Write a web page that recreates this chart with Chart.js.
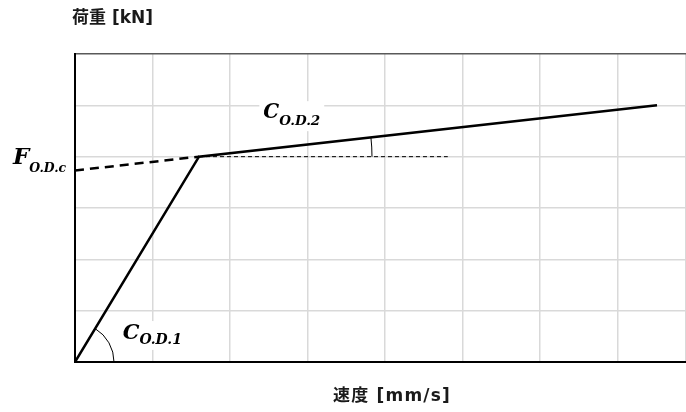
<!DOCTYPE html>
<html>
<head>
<meta charset="utf-8">
<script src="https://cdn.jsdelivr.net/npm/chart.js@4/dist/chart.umd.min.js"></script>
<style>
  html, body { margin: 0; padding: 0; background: #fff; }
  #wrap { width: 686px; height: 412px; }
</style>
</head>
<body>
<div id="wrap"><canvas id="c" width="686" height="412"></canvas></div>
<script>
// Bilinear load–speed curve: origin → knee → end
const speeds = [0, 1.60, 7.51];
const loads = [0, 4.0, 5.0];
// Extrapolation of the second branch back to zero speed
const extSpeeds = [0, 1.60];
const extLoads = [3.73, 4.0];
// Horizontal reference at the knee load
const refSpeeds = [1.60, 4.81];
const refLoads = [4.0, 4.0];

const xTitle = '速度 [mm/s]';
const yTitle = '荷重 [kN]';

const toPts = (xs, ys) => xs.map((v, i) => ({ x: v, y: ys[i] }));

const mathFont = '"DejaVu Serif", "Liberation Serif", serif';

// Draws "Main" + subscript, with a white backing so grid lines stop at the symbol
function drawSymbol(ctx, main, sub, px, py, mainSize, subSize, subDrop) {
  ctx.save();
  ctx.textBaseline = 'alphabetic';
  ctx.textAlign = 'left';
  ctx.font = `italic bold ${mainSize}px ${mathFont}`;
  const wMain = ctx.measureText(main).width;
  ctx.font = `italic bold ${subSize}px ${mathFont}`;
  const wSub = ctx.measureText(sub).width;
  ctx.fillStyle = '#fff';
  ctx.fillRect(px - 4, py - mainSize * 0.85, wMain + wSub + 8, mainSize * 0.85 + subDrop + 6);
  ctx.fillStyle = '#000';
  ctx.font = `italic bold ${mainSize}px ${mathFont}`;
  ctx.fillText(main, px, py);
  ctx.font = `italic bold ${subSize}px ${mathFont}`;
  ctx.fillText(sub, px + wMain, py + subDrop);
  ctx.restore();
}

const annotations = {
  id: 'annotations',
  afterDatasetsDraw(chart) {
    const { ctx, scales: { x, y } } = chart;
    const ox = x.getPixelForValue(speeds[0]), oy = y.getPixelForValue(loads[0]);
    const kx = x.getPixelForValue(speeds[1]), ky = y.getPixelForValue(loads[1]);
    const ex = x.getPixelForValue(speeds[2]), ey = y.getPixelForValue(loads[2]);

    ctx.save();
    ctx.strokeStyle = '#000';
    ctx.lineWidth = 1;
    const a1 = Math.atan2(ky - oy, kx - ox);
    ctx.beginPath();
    ctx.arc(ox, oy, 39, a1, 0);
    ctx.stroke();
    const a2 = Math.atan2(ey - ky, ex - kx);
    ctx.beginPath();
    ctx.arc(kx, ky, 173, a2, 0);
    ctx.stroke();
    ctx.restore();

    drawSymbol(ctx, 'C', 'O.D.1', x.getPixelForValue(0.615), y.getPixelForValue(0.45), 21, 14, 5);
    drawSymbol(ctx, 'C', 'O.D.2', x.getPixelForValue(2.43), y.getPixelForValue(4.75), 20, 13.5, 7);
    drawSymbol(ctx, 'F', 'O.D.c', x.getPixelForValue(-0.80), y.getPixelForValue(3.86), 23, 12.5, 8);

    // axis captions
    ctx.save();
    ctx.fillStyle = '#1a1a1a';
    ctx.font = 'bold 17px "DejaVu Sans", "Noto Sans CJK JP", sans-serif';
    ctx.textBaseline = 'middle';
    ctx.textAlign = 'left';
    ctx.fillText(yTitle, 72, 19);
    ctx.letterSpacing = '1.2px';
    ctx.textAlign = 'center';
    ctx.fillText(xTitle, 392, 397);
    ctx.restore();
  }
};

new Chart(document.getElementById('c'), {
  type: 'scatter',
  data: {
    datasets: [
      {
        data: toPts(speeds, loads),
        showLine: true,
        borderColor: '#000',
        borderWidth: 2.5,
        pointRadius: 0,
        tension: 0
      },
      {
        data: toPts(extSpeeds, extLoads),
        showLine: true,
        borderColor: '#000',
        borderWidth: 2.5,
        borderDash: [9, 6],
        pointRadius: 0
      },
      {
        data: toPts(refSpeeds, refLoads),
        showLine: true,
        borderColor: '#000',
        borderWidth: 1,
        borderDash: [4, 3],
        pointRadius: 0
      }
    ]
  },
  options: {
    responsive: false,
    animation: false,
    events: [],
    layout: { padding: { left: 75, top: 54, right: 0, bottom: 50 } },
    plugins: { legend: { display: false }, tooltip: { enabled: false } },
    scales: {
      x: {
        type: 'linear',
        min: 0,
        max: 7.884,
        ticks: { display: false, stepSize: 1 },
        grid: { color: '#d9d9d9', lineWidth: 1.5, drawTicks: false },
        border: { color: '#000', width: 2 }
      },
      y: {
        type: 'linear',
        min: 0,
        max: 6,
        ticks: { display: false, stepSize: 1 },
        grid: {
          color: (c) => (c.tick && c.tick.value === 6 ? '#595959' : '#d9d9d9'),
          lineWidth: 1.5,
          drawTicks: false
        },
        border: { color: '#000', width: 2 }
      }
    }
  },
  plugins: [annotations]
});
</script>
</body>
</html>
